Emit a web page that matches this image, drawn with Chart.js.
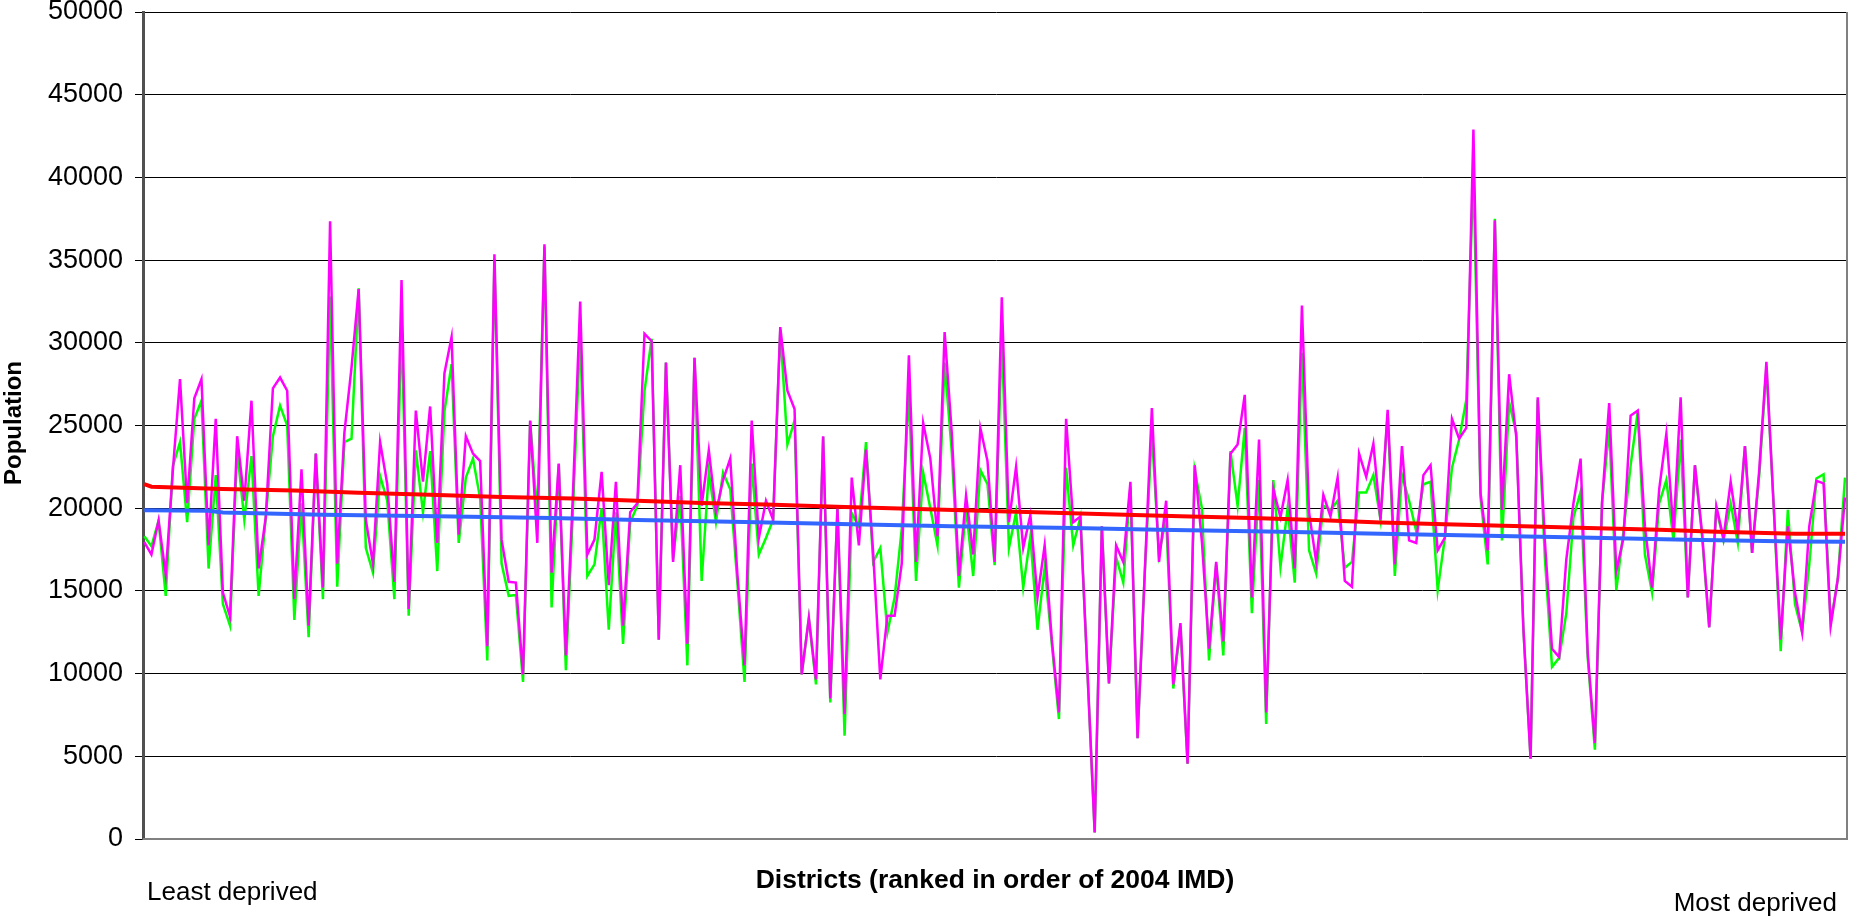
<!DOCTYPE html>
<html>
<head>
<meta charset="utf-8">
<title>Population by district</title>
<script src="https://cdn.jsdelivr.net/npm/chart.js@4/dist/chart.umd.min.js"></script>
<style>
  html, body { margin: 0; padding: 0; background: #fff; }
  canvas { display: block; }
</style>
</head>
<body>
<canvas id="popChart" width="1850" height="918"></canvas>
<script>
// District ranks (1 = least deprived)
const districtRanks = Array.from({ length: 239 }, (_, i) => i + 1);

// Green series
const greenValues = [
  18300, 17700, 19250, 14700, 22550, 24000, 19150, 25400, 26500, 16350, 22000, 14200,
  12900, 23500, 19300, 23150, 14700, 19450, 24350, 26200, 25000, 13250, 20300, 12200,
  23300, 14500, 32800, 15250, 24000, 24200, 33300, 17600, 16100, 21950, 20450, 14500,
  31250, 13500, 23500, 19750, 23450, 16200, 25850, 28700, 17900, 21850, 23000, 20600,
  10800, 35050, 16650, 14700, 14750, 9500, 25250, 19500, 35800, 14000, 22650, 10200,
  20000, 30550, 15900, 16600, 20000, 12650, 19750, 11800, 19150, 20150, 27100,
  30250, 12050, 28800, 16900, 20750, 10500, 29100, 15600, 22200, 19150, 22150, 21150,
  15500, 9500, 22700, 17200, 18200, 19300, 30800, 23850, 25300, 9950, 13350, 9350,
  24300, 8250, 20000, 6250, 19700, 18900, 24000, 16750, 17600, 12500, 14600, 18750,
  27000, 15600, 22150, 20000, 17750, 28800, 23400, 15200, 20000, 15900, 22300, 21450,
  16550, 30250, 17600, 19750, 15200, 18300, 12650, 16450, 11800, 7250, 22450, 17750,
  19450, 10000, 400, 18900, 9400, 17050, 15500, 21300, 6100, 16000, 24550, 17200,
  19450, 9100, 12900, 4550, 22300, 20000, 10800, 16600, 11100, 23450, 20150, 24850,
  13650, 21700, 6950, 21700, 16450, 20000, 15500, 29400, 17450, 16050, 20150,
  19900, 20450, 16400, 16750, 20950, 20950, 22000, 19300, 25700, 15900, 22000, 20450,
  18600, 21450, 21600, 15050, 18200, 22450, 24150, 26550, 40450, 20600, 16600, 37500,
  18050, 26400, 24550, 12650, 4850, 26550, 17000, 10400, 10950, 13650, 19450, 21000,
  10950, 5400, 20300, 24850, 15050, 18600, 22600, 25850, 17200, 14900, 20300, 21700,
  18050, 24150, 14600, 22600, 18300, 12800, 20000, 18050, 20300, 17900, 23750, 17300,
  22000, 28550, 20300, 11350, 19900, 14200, 12500, 16600, 21800, 22050, 13050, 15750,
  21850
];

// Magenta series
const magentaValues = [
  17950, 17200, 19250, 16000, 22300, 27800, 20300, 26650, 27800, 17750, 25400, 14900,
  13450, 24350, 20450, 26500, 16350, 19450, 27250, 27900, 27100, 14500, 22350, 12900,
  23300, 15200, 37350, 16650, 24550, 28500, 33250, 19300, 16650, 24000, 21450, 15550,
  33800, 13900, 25900, 21600, 26150, 17900, 28150, 30350, 18400, 24350, 23300, 22850,
  11650, 35350, 18100, 15550, 15500, 9950, 25300, 17900, 35950, 16100, 22700, 11100,
  21000, 32500, 17200, 18100, 22200, 15350, 21600, 12900, 19750, 20300, 30550,
  30100, 12050, 28800, 16750, 22600, 11800, 29100, 20150, 23500, 19750, 21700, 23000,
  16000, 10500, 25300, 18200, 20450, 19300, 30950, 27100, 26000, 9950, 13350, 9650,
  24350, 8500, 20000, 7550, 21850, 17750, 23550, 17300, 9650, 13500, 13500, 16650,
  29250, 16750, 25150, 23000, 18300, 30650, 24550, 15900, 20750, 17200, 24850, 22850,
  16750, 32750, 19150, 22500, 17600, 19600, 14600, 17750, 12050, 7650, 25400, 19150,
  19500, 10000, 400, 18900, 9400, 17750, 16750, 21600, 6100, 16000, 26050, 16750,
  20450, 9350, 13050, 4550, 22600, 18000, 11500, 16750, 11950, 23300, 23850, 26850,
  14600, 24150, 7650, 21150, 19450, 21700, 16350, 32250, 19750, 16750, 20800,
  19500, 21850, 15600, 15250, 23300, 21900, 23900, 19300, 25950, 16600, 23750, 18050,
  17900, 22000, 22600, 17450, 18200, 25400, 24200, 24850, 42900, 20900, 17450, 37400,
  19900, 28100, 24300, 12650, 4850, 26700, 18000, 11500, 11000, 16900, 20300, 23000,
  11200, 5800, 20350, 26350, 16200, 18200, 25600, 25900, 18900, 15200, 21150, 24500,
  18600, 26700, 14600, 22600, 18500, 12800, 20100, 18200, 21600, 18600, 23750, 17300,
  22300, 28850, 20300, 12050, 18900, 14900, 12500, 18900, 21650, 21500, 12900, 15750,
  20650
];

// Red trend line, read at the ranks where it steps down
const redTrendRanks = [1, 2, 12, 22, 31, 41, 51, 61, 70, 79, 88, 99, 108, 118, 127, 137,
  146, 156, 165, 174, 183, 194, 203, 213, 221, 232, 239];
const redTrendValues = [21450, 21300, 21160, 21070, 20930, 20820, 20680, 20590, 20450,
  20310, 20220, 20080, 19970, 19850, 19740, 19620, 19510, 19400, 19280, 19140, 19030,
  18910, 18800, 18690, 18570, 18460, 18450];

// Blue trend line
const blueTrendRanks = [1, 10, 12, 26, 42, 58, 70, 85, 100, 114, 131, 143, 160, 174, 187,
  202, 217, 232, 239];
const blueTrendValues = [19870, 19850, 19740, 19600, 19510, 19400, 19280, 19170, 19030,
  18910, 18800, 18690, 18570, 18460, 18350, 18230, 18090, 17980, 17970];

const yTicks = [0, 5000, 10000, 15000, 20000, 25000, 30000, 35000, 40000, 45000, 50000];

function toPoints(ranks, values) {
  return values.map((v, i) => ({ x: ranks[i], y: v }));
}

// Texts and plot frame drawn on top of the chart
const labelsPlugin = {
  id: "labelsPlugin",
  afterDraw(chart) {
    const ctx = chart.ctx;
    const area = chart.chartArea;
    ctx.save();

    // frame on right and bottom
    ctx.strokeStyle = "#808080";
    ctx.lineWidth = 2;
    ctx.beginPath();
    ctx.moveTo(area.left, area.bottom);
    ctx.lineTo(area.right - 1, area.bottom);
    ctx.lineTo(area.right - 1, area.top);
    ctx.stroke();

    ctx.fillStyle = "#000";
    ctx.textBaseline = "middle";

    ctx.font = "bold 26.5px 'Liberation Sans', Arial, sans-serif";
    ctx.textAlign = "center";
    ctx.fillText("Districts (ranked in order of 2004 IMD)", 995, 881);

    ctx.font = "26px 'Liberation Sans', Arial, sans-serif";
    ctx.textAlign = "left";
    ctx.fillText("Least deprived", 147, 893);
    ctx.textAlign = "right";
    ctx.fillText("Most deprived", 1837, 904);

    // y axis title, reads bottom to top
    ctx.translate(14, 485);
    ctx.rotate(-Math.PI / 2);
    ctx.font = "bold 24px 'Liberation Sans', Arial, sans-serif";
    ctx.textAlign = "left";
    ctx.fillText("Population", 0, 0);

    ctx.restore();
  }
};

const ctx = document.getElementById("popChart").getContext("2d");
new Chart(ctx, {
  type: "line",
  data: {
    datasets: [
      {
        label: "Red trend",
        data: toPoints(redTrendRanks, redTrendValues),
        borderColor: "#ff0000",
        borderWidth: 4,
        pointRadius: 0,
        tension: 0
      },
      {
        label: "Blue trend",
        data: toPoints(blueTrendRanks, blueTrendValues),
        borderColor: "#3366ff",
        borderWidth: 4,
        pointRadius: 0,
        tension: 0
      },
      {
        label: "Magenta",
        data: toPoints(districtRanks, magentaValues),
        borderColor: "#ff00ff",
        borderWidth: 2.5,
        pointRadius: 0,
        tension: 0
      },
      {
        label: "Green",
        data: toPoints(districtRanks, greenValues),
        borderColor: "#00ff00",
        borderWidth: 2.5,
        pointRadius: 0,
        tension: 0
      }
    ]
  },
  options: {
    responsive: false,
    animation: false,
    devicePixelRatio: 1,
    layout: { padding: { top: 12, right: 2, left: 0, bottom: 0 } },
    plugins: {
      legend: { display: false },
      tooltip: { enabled: false }
    },
    scales: {
      x: {
        type: "linear",
        min: 0.82,
        max: 239.42,
        ticks: { display: false },
        grid: { display: false },
        border: { display: false },
        afterFit(scale) {
          scale.height = 79;
          scale.paddingLeft = 0;
          scale.paddingRight = 0;
        }
      },
      y: {
        min: 0,
        max: 50000,
        afterBuildTicks(scale) {
          scale.ticks = yTicks.map(v => ({ value: v }));
        },
        ticks: {
          color: "#000",
          padding: 12,
          font: { family: "'Liberation Sans', Arial, sans-serif", size: 27 },
          callback: v => String(v)
        },
        grid: {
          color: "#000",
          lineWidth: 1,
          tickLength: 8,
          drawTicks: true
        },
        border: { display: true, color: "#505050", width: 3 },
        afterFit(scale) {
          scale.width = 143;
          scale.paddingTop = 0;
          scale.paddingBottom = 0;
        }
      }
    }
  },
  plugins: [labelsPlugin]
});
</script>
</body>
</html>
